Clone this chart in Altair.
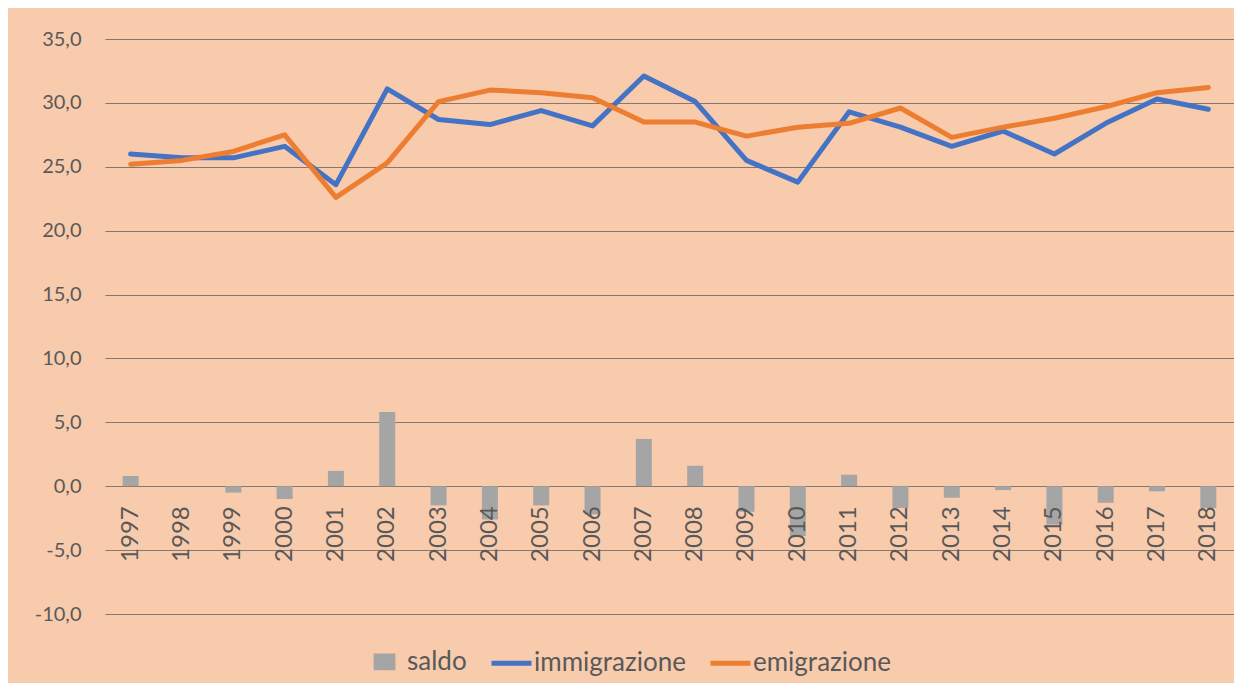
import altair as alt
import pandas as pd

anni = ["1997", "1998", "1999", "2000", "2001", "2002", "2003", "2004", "2005", "2006", "2007",
        "2008", "2009", "2010", "2011", "2012", "2013", "2014", "2015", "2016", "2017", "2018"]
immigrazione = [26.0, 25.7, 25.7, 26.6, 23.6, 31.1, 28.7, 28.3, 29.4, 28.2, 32.1,
                30.1, 25.5, 23.8, 29.3, 28.1, 26.6, 27.8, 26.0, 28.4, 30.3, 29.5]
emigrazione = [25.2, 25.5, 26.2, 27.5, 22.6, 25.3, 30.1, 31.0, 30.8, 30.4, 28.5,
               28.5, 27.4, 28.1, 28.4, 29.6, 27.3, 28.1, 28.8, 29.7, 30.8, 31.2]
saldo = [0.8, 0.0, -0.5, -1.0, 1.2, 5.8, -1.5, -2.6, -1.5, -2.2, 3.7,
         1.6, -2.0, -3.9, 0.9, -1.7, -0.9, -0.3, -3.0, -1.3, -0.4, -1.7]
serie = ["saldo", "immigrazione", "emigrazione"]
colori = ["#A5A5A5", "#4472C4", "#ED7D31"]
y_ticks = [-10, -5, 0, 5, 10, 15, 20, 25, 30, 35]

FONT = "Lato"
TXT = "#595959"
GRID = "#85786f"
BG = "#F8CBAD"

df_bar = pd.DataFrame({"anno": anni, "serie": ["saldo"] * len(anni), "valore": saldo})
df_line = pd.DataFrame({
    "anno": anni + anni,
    "serie": ["immigrazione"] * len(anni) + ["emigrazione"] * len(anni),
    "valore": immigrazione + emigrazione,
})
df_lab = pd.DataFrame({"anno": anni})

legend = alt.Legend(
    orient="none", legendX=257, legendY=600, direction="horizontal", title=None,
    labelFont=FONT, labelFontSize=26, labelColor=TXT,
    symbolSize=1600, symbolStrokeWidth=5,
    symbolType={"expr": "datum.label == 'saldo' ? 'M-0.42,-0.29H0.42V0.29H-0.42Z' : 'stroke'"},
    symbolFillColor={"expr": "datum.label == 'saldo' ? '#A5A5A5' : 'transparent'"},
    columnPadding=14, labelOffset=0,
)

x = alt.X("anno:N", axis=None, sort=anni, scale=alt.Scale(paddingInner=0, paddingOuter=0))
yscale = alt.Scale(domain=[-10, 35], nice=False)
yaxis = alt.Axis(
    values=y_ticks, grid=True, gridColor=GRID, gridWidth=1, domain=False, ticks=False,
    labelExpr="(datum.value < 0 ? '-' : '') + replace(format(abs(datum.value), '.1f'), '.', ',')",
    labelFont=FONT, labelFontSize=20, labelColor=TXT, labelPadding=24, title=None,
)
color = alt.Color("serie:N", scale=alt.Scale(domain=serie, range=colori), sort=serie, legend=legend)

lines = alt.Chart(df_line).mark_line(strokeWidth=5, strokeJoin="round", strokeCap="round").encode(
    x=x, y=alt.Y("valore:Q", scale=yscale, axis=yaxis), color=color
)
bars = alt.Chart(df_bar).mark_bar(size=16).encode(
    x=x, y=alt.Y("valore:Q", scale=yscale), color=color
)
labels = alt.Chart(df_lab).mark_text(
    angle=270, align="right", baseline="middle", dx=-20, font=FONT, fontSize=24, color=TXT
).encode(x=x, y=alt.datum(0), text="anno:N")

chart = alt.layer(lines, bars, labels).properties(
    width=1129, height=575,
    padding={"left": 97, "top": 31, "right": 0, "bottom": 69},
    autosize=alt.AutoSizeParams(type="none"),
    background=BG,
).configure_view(stroke=None)

chart.save("out.html", embed_options={"renderer": "svg", "actions": False})
